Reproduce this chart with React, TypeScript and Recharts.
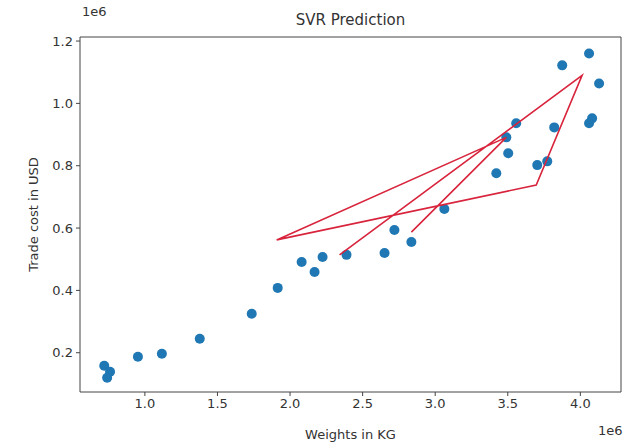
import { ScatterChart, Scatter, XAxis, YAxis } from "recharts";

// values in units of 1e6
const weights = [0.72, 0.76, 0.74, 0.952, 1.117, 1.378, 1.736, 1.915, 2.08, 2.169, 2.224, 2.389, 2.651, 2.719, 2.836, 3.063, 3.421, 3.503, 3.49, 3.558, 3.703, 3.772, 3.82, 3.875, 4.06, 4.129, 4.081, 4.06];
const costs = [0.158, 0.139, 0.12, 0.187, 0.197, 0.245, 0.325, 0.408, 0.491, 0.459, 0.507, 0.514, 0.52, 0.594, 0.555, 0.661, 0.776, 0.84, 0.891, 0.936, 0.802, 0.814, 0.923, 1.122, 1.16, 1.064, 0.952, 0.936];

// SVR predictions, in test-set order (unsorted)
const predWeights = [2.341, 4.012, 3.696, 1.908, 3.49, 2.836];
const predCosts = [0.514, 1.09, 0.738, 0.562, 0.891, 0.587];

const xTicks = [1.0, 1.5, 2.0, 2.5, 3.0, 3.5, 4.0];
const yTicks = [0.2, 0.4, 0.6, 0.8, 1.0, 1.2];

const points = weights.map((w, i) => ({ x: w, y: costs[i] }));
const preds = predWeights.map((w, i) => ({ x: w, y: predCosts[i] }));

const font = "DejaVu Sans, sans-serif";
const axisColor = "#444";
const tickStyle = { fontSize: 13, fill: "#333", fontFamily: font };

export default function App() {
    return (
        <div style={{ position: "absolute", left: 0, top: 0, width: 626, height: 444, background: "#fff", fontFamily: font }}>
            <ScatterChart width={626} height={444} margin={{ top: 36, right: 4, bottom: 0, left: 0 }}>
                <XAxis dataKey="x" type="number" domain={[0.553, 4.28]} ticks={xTicks} allowDataOverflow
                    tickFormatter={(v: number) => v.toFixed(1)} height={52} stroke={axisColor} tick={tickStyle}
                    tickSize={4} tickMargin={3}
                    label={{ value: "Weights in KG", position: "insideBottom", offset: 5, fontSize: 13, fill: "#333", fontFamily: font }} />
                <YAxis dataKey="y" type="number" domain={[0.074, 1.213]} ticks={yTicks} allowDataOverflow
                    tickFormatter={(v: number) => v.toFixed(1)} width={80} stroke={axisColor} tick={tickStyle}
                    tickSize={4} tickMargin={3}
                    label={{ value: "Trade cost in USD", angle: -90, position: "center", dx: -7, fontSize: 13, fill: "#333", fontFamily: font }} />
                <XAxis xAxisId="top" orientation="top" dataKey="x" type="number" domain={[0.553, 4.28]} allowDataOverflow
                    height={1} tick={false} tickLine={false} stroke={axisColor} />
                <YAxis yAxisId="right" orientation="right" dataKey="y" type="number" domain={[0.074, 1.213]} allowDataOverflow
                    width={1} tick={false} tickLine={false} stroke={axisColor} />
                <Scatter data={points} isAnimationActive={false}
                    shape={(p: any) => <circle cx={p.cx} cy={p.cy} r={5} fill="#1f77b4" />} />
                <Scatter data={preds} isAnimationActive={false} line={{ stroke: "#d8243c", strokeWidth: 1.6 }}
                    shape={() => <g />} />
            </ScatterChart>
            <div style={{ position: "absolute", left: 0, width: 701, top: 11, textAlign: "center", fontSize: 15, color: "#333" }}>SVR Prediction</div>
            <div style={{ position: "absolute", left: 82, top: 4, fontSize: 13, color: "#333" }}>1e6</div>
            <div style={{ position: "absolute", left: 598, top: 423, fontSize: 13, color: "#333" }}>1e6</div>
        </div>
    );
}
